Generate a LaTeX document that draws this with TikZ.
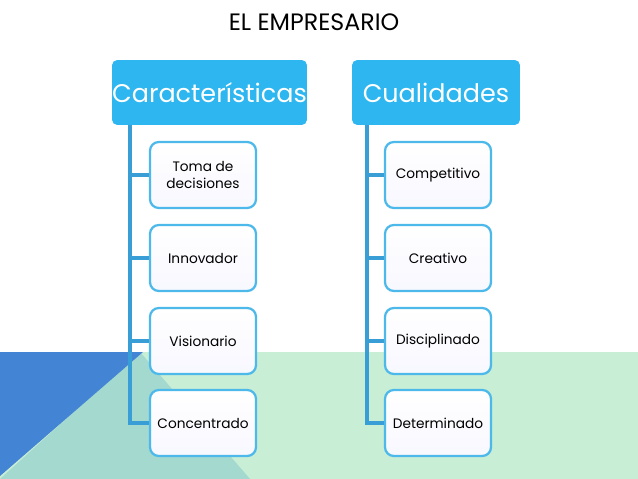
\documentclass[tikz,border=0pt]{standalone}
\usepackage{fontspec}
\setmainfont{Poppins}
\usetikzlibrary{positioning}
\definecolor{headblue}{HTML}{2DB6EF}
\definecolor{edgeblue}{HTML}{4DB9EA}
\definecolor{linkblue}{HTML}{3A9ED6}
\definecolor{bggreen}{HTML}{C8EED6}
\definecolor{bgteal}{HTML}{A3D9CF}
\definecolor{bgblue}{HTML}{4384D4}
\tikzset{
  headbox/.style={fill=headblue, rounded corners=3pt, minimum width=3.9cm, minimum height=1.3cm, text=white, font=\fontsize{14.5}{17}\selectfont, inner sep=0pt},
  itembox/.style={draw=edgeblue, line width=1.3pt, top color=white, bottom color=blue!3!white, rounded corners=5pt, minimum width=2.12cm, minimum height=1.32cm, align=center, font=\fontsize{7.8}{10}\selectfont, inner sep=1pt},
  link/.style={draw=linkblue, line width=1.8pt}
}
\begin{document}
\begin{tikzpicture}[x=0.02cm,y=-0.02cm]
    \useasboundingbox (0,0) rectangle (638,479);
    % background
    \fill[bggreen] (0,352) rectangle (638,479);
    \fill[bgteal] (140,352) -- (250,479) -- (0,479) -- cycle;
    \fill[bgblue] (0,352) -- (143,352) -- (0,476) -- cycle;
    \node (title) at (314,22) {\fontsize{13.5}{16}\selectfont EL EMPRESARIO};
    % left column
    \node[headbox, minimum width=3.9cm] (car) at (209.5,92.5) {Características};
    \node[itembox] (toma) at (203,175) {Toma de\\decisiones};
    \node[itembox] (inno) at (203,258) {Innovador};
    \node[itembox] (visi) at (203,341) {Visionario};
    \node[itembox] (conc) at (203,423) {Concentrado};
    \coordinate (lt) at (130,125);
    \draw[link] (lt) |- (conc.west);
    \foreach \n in {toma,inno,visi}
        \draw[link] (lt |- \n.west) -- (\n.west);
    % right column
    \node[headbox, minimum width=3.36cm] (cua) at (436,92.5) {Cualidades};
    \node[itembox] (comp) at (438,175) {Competitivo};
    \node[itembox] (crea) at (438,258) {Creativo};
    \node[itembox] (disc) at (438,341) {Disciplinado};
    \node[itembox] (dete) at (438,423) {Determinado};
    \coordinate (rt) at (367,125);
    \draw[link] (rt) |- (dete.west);
    \foreach \n in {comp,crea,disc}
        \draw[link] (rt |- \n.west) -- (\n.west);
\end{tikzpicture}
\end{document}
